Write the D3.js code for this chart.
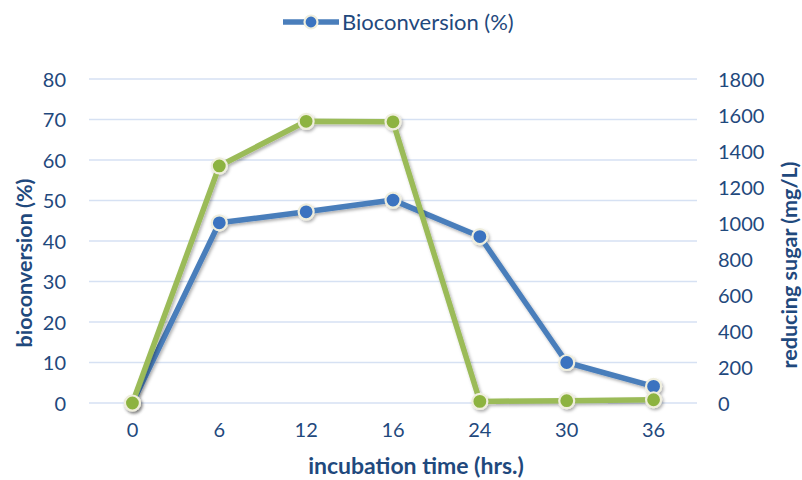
<!DOCTYPE html>
<html>
<head>
<meta charset="utf-8">
<script src="https://cdn.jsdelivr.net/npm/d3@7"></script>
<style>
  body { margin: 0; background: #fff; }
  svg text { font-family: Lato, "Open Sans", sans-serif; fill: #1f497d; }
  .tick text { font-size: 20px; }
  .axis-title { font-size: 21.5px; font-weight: bold; }
</style>
</head>
<body>
<svg id="chart" width="802" height="480"></svg>
<script>
var hours = ["0", "6", "12", "16", "24", "30", "36"];
var bioconversion = [0, 44.5, 47.2, 50.1, 41.1, 10, 4.1];
var reducingSugar = [0, 1317, 1565, 1562, 9, 13, 18];
var leftTicks = [0, 10, 20, 30, 40, 50, 60, 70, 80];
var rightTicks = [0, 200, 400, 600, 800, 1000, 1200, 1400, 1600, 1800];

var margin = {top: 79, right: 105, bottom: 77, left: 89};
var width = 802 - margin.left - margin.right;
var height = 480 - margin.top - margin.bottom;

var svg = d3.select("#chart");

var defs = svg.append("defs");
var f = defs.append("filter").attr("id", "shadow")
  .attr("x", "-20%").attr("y", "-20%").attr("width", "140%").attr("height", "140%");
f.append("feDropShadow").attr("dx", 1.5).attr("dy", 2).attr("stdDeviation", 1.5)
  .attr("flood-color", "#000").attr("flood-opacity", 0.3);

var g = svg.append("g").attr("transform", "translate(" + margin.left + "," + margin.top + ")");

var x = d3.scaleBand().domain(hours).range([0, width]);
var yL = d3.scaleLinear().domain([0, 80]).range([height, 0]);
var yR = d3.scaleLinear().domain([0, 1800]).range([height, 0]);

// gridlines
g.append("g").selectAll("line").data(leftTicks).enter().append("line")
  .attr("x1", 0).attr("x2", width)
  .attr("y1", function (d) { return yL(d); })
  .attr("y2", function (d) { return yL(d); })
  .attr("stroke", "#d6e1f3").attr("stroke-width", 1.5);

// axes
var axL = g.append("g").call(d3.axisLeft(yL).tickValues(leftTicks).tickSize(0).tickPadding(23));
var axR = g.append("g").attr("transform", "translate(" + width + ",0)")
  .call(d3.axisRight(yR).tickValues(rightTicks).tickFormat(d3.format("d")).tickSize(0).tickPadding(21));
var axB = g.append("g").attr("transform", "translate(0," + height + ")")
  .call(d3.axisBottom(x).tickSize(0).tickPadding(20));
[axL, axR, axB].forEach(function (a) { a.select(".domain").remove(); });
axL.selectAll("text").attr("dy", "0.35em");
axR.selectAll("text").attr("dy", "0.35em");

function cx(d, i) { return x(hours[i]) + x.bandwidth() / 2; }

var series = [
  {vals: bioconversion, y: yL, line: "#4a7ebb", fill: "#3a73c0"},
  {vals: reducingSugar, y: yR, line: "#9bbb59", fill: "#8db33f"}
];

series.forEach(function (s) {
  var line = d3.line()
    .x(function (d, i) { return cx(d, i); })
    .y(function (d) { return s.y(d); });
  var sg = g.append("g").attr("filter", "url(#shadow)");
  sg.append("path").datum(s.vals)
    .attr("d", line)
    .attr("fill", "none")
    .attr("stroke", s.line)
    .attr("stroke-width", 5.5)
    .attr("stroke-linejoin", "round");
  sg.selectAll("circle").data(s.vals).enter().append("circle")
    .attr("cx", cx)
    .attr("cy", function (d) { return s.y(d); })
    .attr("r", 7.5)
    .attr("fill", s.fill)
    .attr("stroke", "#efeedd")
    .attr("stroke-width", 2.2);
});

// axis titles
svg.append("text").attr("class", "axis-title")
  .attr("transform", "translate(32,263) rotate(-90)")
  .attr("text-anchor", "middle")
  .text("bioconversion (%)");
svg.append("text").attr("class", "axis-title")
  .attr("transform", "translate(797,265) rotate(-90)")
  .attr("text-anchor", "middle")
  .text("reducing sugar (mg/L)");
svg.append("text").attr("class", "axis-title")
  .attr("x", 416).attr("y", 474)
  .attr("text-anchor", "middle")
  .style("font-size", "23px")
  .text("incubation time (hrs.)");

// legend
var lg = svg.append("g").attr("transform", "translate(283,22)");
lg.append("line").attr("x1", 0).attr("x2", 56).attr("y1", 0).attr("y2", 0)
  .attr("stroke", "#4a7ebb").attr("stroke-width", 5.5);
lg.append("circle").attr("cx", 28).attr("cy", 0).attr("r", 6.5)
  .attr("fill", "#3a73c0").attr("stroke", "#efeedd").attr("stroke-width", 2.2);
lg.append("text").attr("x", 59).attr("y", 0).attr("dy", "0.35em")
  .style("font-size", "22px").text("Bioconversion (%)");
</script>
</body>
</html>
